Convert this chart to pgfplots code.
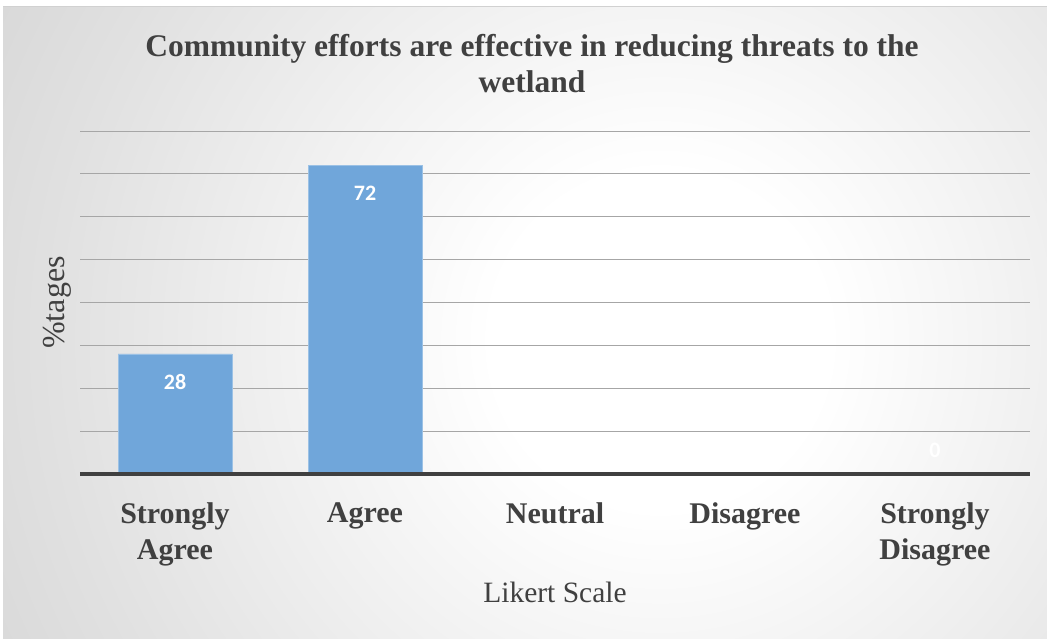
\documentclass[border=0pt]{standalone}
\usepackage{fontspec}
\setmainfont{Liberation Serif}
\newfontfamily\labelfont{Carlito}
\usepackage{pgfplots}
\pgfplotsset{compat=1.18}
\definecolor{txt}{HTML}{404040}
\definecolor{barblue}{RGB}{112,166,218}
\definecolor{gridc}{HTML}{A6A6A6}
% soft radial background, white towards the middle, grey at the edges
\pgfdeclareradialshading{chartbg}{\pgfpoint{0bp}{0bp}}{color(0bp)=(white); color(6bp)=(white); color(22bp)=(black!12); color(28bp)=(black!16); color(47bp)=(black!25); color(55bp)=(black!28); color(75bp)=(black!30)}

\begin{document}
\begin{tikzpicture}
\useasboundingbox (0pt,0pt) rectangle (1047pt,-639pt);
\fill[white] (0pt,0pt) rectangle (1047pt,-639pt);
\begin{scope}
  \clip (3pt,-7pt) rectangle (1047pt,-639pt);
  \shade[shading=chartbg] (-40pt,360pt) rectangle (1360pt,-1040pt);
\end{scope}
\draw[black!18, line width=1pt] (3pt,-7pt) -- (1047pt,-7pt);

\node[font=\bfseries\fontsize{31.5}{36}\selectfont, text=txt, align=center] at (532pt,-64pt)
  {Community efforts are effective in reducing threats to the\\wetland};

\begin{axis}[
  at={(80pt,-474pt)}, anchor=south west,
  scale only axis, width=950pt, height=343pt,
  xmin=-0.5, xmax=4.5, ymin=0, ymax=80,
  axis line style={draw=none},
  major tick length=0pt,
  ytick={10,20,...,80}, yticklabels={},
  ymajorgrids, grid style={gridc, line width=1pt},
  xtick={0,1,2,3,4},
  xticklabels={Strongly\\Agree, Agree, Neutral, Disagree, Strongly\\Disagree},
  xticklabel style={font=\bfseries\fontsize{30}{36}\selectfont, text=txt, align=center, anchor=north, yshift=-25pt},
  ylabel={\%tages},
  ylabel style={at={(rel axis cs:-0.0242,0.5)}, anchor=center, font=\fontsize{32}{36}\selectfont, text=txt},
  xlabel={Likert Scale},
  xlabel style={at={(rel axis cs:0.5,-0.344)}, anchor=center, font=\fontsize{29.5}{34}\selectfont, text=txt},
  clip=false,
]
\addplot[ybar, bar width=114pt, fill=barblue, draw=barblue!70!white, line width=0.8pt,
  nodes near coords,
  every node near coord/.style={anchor=center, yshift=-28pt, text=white,
    font=\labelfont\bfseries\fontsize{22}{26}\selectfont, /pgf/number format/assume math mode=true}]
  coordinates {(0,28) (1,72)};
\addplot[draw=none, mark=none,
  nodes near coords,
  every node near coord/.style={anchor=center, yshift=24pt, text=white,
    font=\labelfont\bfseries\fontsize{22}{26}\selectfont, /pgf/number format/assume math mode=true}]
  coordinates {(4,0)};
\draw[txt, line width=4pt] (axis cs:-0.5,0) -- (axis cs:4.5,0);
\end{axis}
\end{tikzpicture}
\end{document}
